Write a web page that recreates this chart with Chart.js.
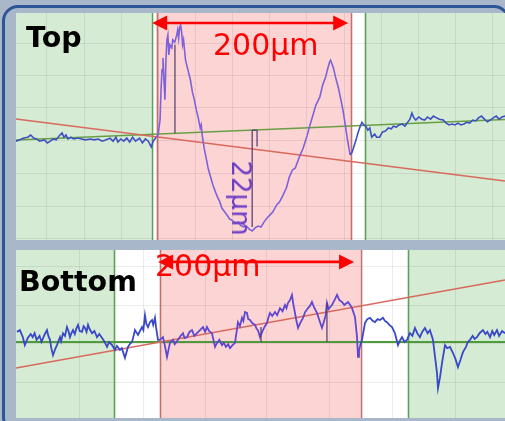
<!DOCTYPE html>
<html>
<head>
<meta charset="utf-8">
<script src="https://cdn.jsdelivr.net/npm/chart.js@4.4.1/dist/chart.umd.min.js"></script>
<style>
  html, body { margin: 0; padding: 0; }
  body {
    width: 505px; height: 421px; overflow: hidden; position: relative;
    background: #a9b7ca; font-family: "DejaVu Sans", Verdana, sans-serif;
  }
  #frame {
    position: absolute; left: 2px; top: 5px; width: 508px; height: 428px;
    box-sizing: border-box; border: 3px solid #2f5597; border-radius: 16px;
  }
  .panel { position: absolute; left: 16px; background: #fff; }
  #topPanel { top: 13px; width: 489px; height: 227px; }
  #botPanel { top: 250px; width: 489px; height: 168px; }
  .lbl { position: absolute; white-space: nowrap; line-height: 1; }
  .name { font-weight: bold; font-size: 28.5px; color: #000; }
  .span { font-size: 30px; color: #ff0000; }
  #depthLbl {
    left: 241px; top: 198px; font-size: 26px; color: #6b3cc6;
    transform: translate(-50%, -50%) rotate(90deg);
  }
</style>
</head>
<body>
<div id="frame"></div>
<div class="panel" id="topPanel"><canvas id="topChart" width="489" height="227"></canvas></div>
<div class="panel" id="botPanel"><canvas id="botChart" width="489" height="168"></canvas></div>
<div class="lbl name" style="left:26px;top:24px;">Top</div>
<div class="lbl name" style="left:19px;top:268px;">Bottom</div>
<div class="lbl span" style="left:213px;top:30px;">200μm</div>
<div class="lbl span" style="left:155px;top:251px;">200μm</div>
<div class="lbl" id="depthLbl">22μm</div>

<script>
// ---- Top surface profile (x in μm, height in μm) ----
const topX = [0,4,8,12,15,18,21,24,29,32,35,38,41,44,47,49,51,53,56,59,63,67,71,76,80,84,88,92,96,99,102,104,107,110,113,116,119,122,126,129,132,135,138,140,143,145,147,148,149,150,151,152,153,154,155,156,157,159,160,162,164,165,166,167,168,169,170,171,173,175,178,180,182,184,186,188,189,190,192,194,196,198,201,204,206,208,210,213,216,218,220,224,227,229,232,235,238,241,244,247,250,253,256,259,262,266,269,272,276,279,282,285,288,290,293,295,297,300,303,306,310,313,316,318,320,321,324,326,329,332,334,336,338,340,341,343,345,347,349,351,353,355,357,359,361,363,366,368,371,374,377,380,383,385,388,391,394,397,399,402,404,406,408,411,414,417,420,423,426,429,432,436,439,442,445,448,451,454,457,460,463,466,469,472,475,478,481,484,487,490,493,496,499];
const topY = [-1.4,-1.1,-0.7,-0.5,0,-0.7,-0.9,-1.4,-1.1,-1.8,-1.4,-0.9,-1.1,-0.2,0.5,-0.5,0,-0.9,-0.5,-0.9,-0.7,-0.9,-1.1,-0.9,-1.1,-0.9,-1.4,-1.1,-0.7,-1.4,-0.5,-1.6,-0.9,-1.4,-0.7,-1.6,-0.5,-1.4,-0.7,-1.8,-0.9,-1.4,-2.7,-1.4,-0.5,0,3.4,10.2,14.8,17.5,12.5,8,17,21.6,22.7,18.2,20.5,19.8,21.6,21.1,22.7,23.9,22,24.5,25,23.4,20.5,21.6,17,15.2,12.5,9.8,8,5.7,3.9,1.6,2.3,0,-3,-5.2,-7.5,-9.1,-11.4,-13.2,-14.3,-15.2,-16.6,-17.5,-18.4,-19.1,-19.3,-20,-19.8,-20.5,-20.9,-20.7,-21.4,-21.8,-21.1,-20.7,-20.9,-19.8,-18.9,-18.2,-17.5,-15.9,-15.2,-13.9,-12,-9.5,-8,-7.5,-5.7,-4.5,-3,-1.6,-0.2,2.3,4.5,6.8,8.6,11.4,13.2,15,16.6,17,15.2,13.2,10.7,7.5,5.2,2.3,-0.7,-3.4,-4.5,-3.9,-2.5,-1.1,0.5,1.8,2.9,2.3,2,1.1,1.6,-0.5,0.2,-0.5,-0.5,0.7,0.9,1.6,1.4,2,1.8,2.3,2.5,2,2.7,3.6,5,3.9,3.4,4.1,3.6,3.4,4.1,3.6,4.3,3.9,3.6,3.4,2.7,2.3,2.5,2.3,2.7,2.3,2.5,2.9,2.7,3.4,3.2,3.9,4.3,3.6,3,3.4,3.9,4.3,3.6,4.1,4.3];

// reference lines of the top scan: [x0, y0, x1, y1]
const topLevelLine = [0, -1.14, 499, 3.52];
const topTiltLine  = [0, 3.64, 499, -10.45];
// measurement ticks: peak marker and 22 μm depth marker
const topPeakMark  = [162.2, 0.4, 20.5];
const topDepthMark = [241, 1.1, -20.9];
const topDepthCap  = [246, 1.1, -2.6];

// ---- Bottom surface profile ----
const botX = [1,4,7,9,12,15,17,19,21,24,26,29,31.6,33,34.7,36,37.8,40,41.8,44.9,46,48,50,52,53.5,55.1,56.5,58.2,60,61.5,63.3,65,67.3,69,70.4,72,73.5,75,77.6,80,82.7,85,87.8,90,92.9,95,98,101,103,106.1,108,111.2,114.3,116,118.4,120,121.4,124.5,126.5,128.6,130,131.6,133,134.7,136.7,138.8,140,141.8,143,144.9,146.9,150,152,154.1,157.1,160.2,162,165.3,168,170.4,172,174.5,177,179.6,182,184.7,187.8,190.8,193,194.9,197,200,203.1,205.1,207.5,210.2,212,214.3,216.5,218.4,221,223.5,226.5,228.5,230.6,232,233.7,235.7,237,238.8,241,243.9,245.5,246.9,249,252,254,256.1,257.5,259.2,261.5,264.3,266.5,269.4,272,274.5,276,277.6,279.5,281.6,283,284.7,286,287.8,290,292.9,295,298,300,302,304,307.1,309.5,312.2,314,316,317.3,319,322.4,325,327.6,330,332.7,335,338.8,341,342.9,345.9,348,349,350,351,353.1,356.1,358.5,361.2,364,366.3,369,371.4,374.5,376.5,378.6,381,383.7,386.7,389.8,391.5,393.9,396.5,399,402,404.5,407.1,409.5,412.2,414.5,417.3,420,422.4,425.5,427.6,429.6,430.6,432.7,434.7,437.8,440,442.9,445.9,448.5,451,453.5,456.1,459.2,461,463.3,466,468,470.4,473,476.5,479,481,483.7,486,488,490.8,493,496,499];
const botY = [2.3,2.7,1.1,-0.7,0.9,1.8,1.1,2,0.5,1.4,0,1.6,2.7,1.4,0.5,-1.4,-3,-1.6,-0.7,1.1,0.2,2,1.4,3.4,2.5,1.1,2,2.7,1.8,3,3.9,2.5,2.3,3.6,3.2,2.3,3.9,3,2,2.5,1.1,1.8,0.9,0.2,-1.1,0,-0.7,-1.8,-0.9,-1.8,-1.4,-3.6,-1.1,-0.5,0,1.4,2.7,1.6,2.5,3.4,2.7,6.1,4.1,3.4,4.5,5,3.9,5.5,3.2,0.5,0.5,1.1,-0.9,-3.4,-0.2,0.5,-0.5,0.5,1.4,2,0.9,1.1,2.3,2.7,1.4,2,2.7,3.4,2.3,3.4,2.5,2,-1.1,-0.2,0.5,-0.7,-0.2,-1.1,-0.5,-1.4,-0.7,-0.2,4.5,3.6,5.5,4.8,6.8,6.6,5.2,5,4.3,3.9,3,2.7,1.1,2.7,3.6,4.3,5.5,6.6,5.9,6.8,6.1,7.7,7,8.4,7.7,8.9,9.5,10.7,8.6,6.6,5,3.2,4.3,5.5,6.8,7.7,8.2,9.1,8,6.6,5,3.2,4.5,6.1,8.9,7.5,8.4,9.5,10.7,9.5,9.1,8.4,9.1,8.4,7.7,5.7,1.1,-3.4,-2,-1,0.5,4.3,5.2,5.5,4.8,4.5,5.2,5,5.5,4.8,4.5,3.9,3.4,2,-0.7,0.2,1.1,0,0.5,2,1.4,3.2,2,1.1,2.3,3.2,2,2.7,0.5,-3.4,-7,-10.5,-8,-4.8,-0.7,-1.4,-1.1,-2.5,-3.9,-5.7,-4.1,-2.3,-1.1,0,0.5,1.4,0.7,1.1,2,2.7,1.8,2.3,1.1,2.5,1.6,2.7,1.4,2.5,2];

const botLevelLine = [0, 0, 499, 0];
const botTiltLine  = [0, -5.91, 499, 14.09];
const botMarkA = [250, 0, 3.4];
const botMarkB = [317.3, 0, 8.9];

// ---- zones along the scan (μm) ----
const topZoneEdges = [0, 138.5, 143.6, 341.8, 356.1, 499];
const botZoneEdges = [0, 100, 147.4, 351.7, 400, 499];
const zoneKinds = ['green', 'white', 'pink', 'white', 'green'];

// ---- 200 μm span arrows: [start x, length, height] ----
const topSpan = [139, 200, 25.45];
const botSpan = [145, 200, 18.2];

// ---- grid positions ----
const topGridX = [31.6, 69.5, 107.4, 145.3, 183.2, 221.1, 259, 296.9, 334.8, 372.7, 410.6, 448.5, 486.4];
const topGridY = [20.91, 13.52, 6.14, -1.25, -8.64, -16.14, -23.5];
const botGridX = [65.3, 129.6, 192.9, 256.1, 320.4, 383.7, 448];
const botGridY = [17.16, 8.41, -0.34, -9.09];

const zoneFill = { green: '#d6ebd3', pink: '#fdd4d4', white: '#ffffff' };
const edgeColor = { green: '#5e9f5c', pink: '#c2706e' };

const zonePlugin = {
  id: 'zones',
  beforeDraw(chart, args, o) {
    const { ctx, chartArea: a, scales: { x } } = chart;
    ctx.save();
    for (let i = 0; i < o.kinds.length; i++) {
      const x0 = x.getPixelForValue(o.edges[i]);
      const x1 = x.getPixelForValue(o.edges[i + 1]);
      ctx.fillStyle = zoneFill[o.kinds[i]];
      ctx.fillRect(x0, a.top, x1 - x0, a.bottom - a.top);
    }
    ctx.restore();
  },
  beforeDatasetsDraw(chart, args, o) {
    const { ctx, chartArea: a, scales: { x } } = chart;
    ctx.save();
    ctx.lineWidth = 1.6;
    for (let i = 1; i < o.kinds.length; i++) {
      const left = o.kinds[i - 1], right = o.kinds[i];
      const kind = left === 'white' ? right : left;
      const px = Math.round(x.getPixelForValue(o.edges[i])) + 0.5;
      ctx.strokeStyle = edgeColor[kind];
      ctx.beginPath();
      ctx.moveTo(px, a.top);
      ctx.lineTo(px, a.bottom);
      ctx.stroke();
    }
    ctx.restore();
  },
  afterDatasetsDraw(chart, args, o) {
    const { ctx, scales: { x, y } } = chart;
    const [sx, len, sy] = o.span;
    const x0 = x.getPixelForValue(sx), x1 = x.getPixelForValue(sx + len);
    const py = y.getPixelForValue(sy);
    const hl = 15, hw = 7.5;
    ctx.save();
    ctx.strokeStyle = '#ff0000';
    ctx.fillStyle = '#ff0000';
    ctx.lineWidth = 2.6;
    ctx.beginPath();
    ctx.moveTo(x0 + hl - 2, py);
    ctx.lineTo(x1 - hl + 2, py);
    ctx.stroke();
    ctx.beginPath();
    ctx.moveTo(x1, py); ctx.lineTo(x1 - hl, py - hw); ctx.lineTo(x1 - hl, py + hw); ctx.closePath();
    ctx.fill();
    ctx.beginPath();
    ctx.moveTo(x0, py); ctx.lineTo(x0 + hl, py - hw); ctx.lineTo(x0 + hl, py + hw); ctx.closePath();
    ctx.fill();
    ctx.restore();
  }
};

function pts(xs, ys) { return xs.map((v, i) => ({ x: v, y: ys[i] })); }
function seg(l) { return [{ x: l[0], y: l[1] }, { x: l[2], y: l[3] }]; }
function vmark(m) { return [{ x: m[0], y: m[1] }, { x: m[0], y: m[2] }]; }

function buildChart(id, o) {
  const inPink = v => v > o.edges[2] && v < o.edges[3];
  const datasets = [
    { data: pts(o.xs, o.ys), borderColor: o.blue, borderWidth: o.width, order: 1,
      segment: { borderColor: c => inPink((c.p0.parsed.x + c.p1.parsed.x) / 2) ? o.purple : o.blue } },
    { data: seg(o.level), borderColor: o.levelColor, borderWidth: o.levelWidth, order: 3 },
    { data: seg(o.tilt), borderColor: '#d8695d', borderWidth: 1.5, order: 2 }
  ];
  o.marks.forEach(m => datasets.push({ data: m, borderColor: '#4b3b6b', borderWidth: 1.2, order: 0 }));
  return new Chart(document.getElementById(id), {
    type: 'line',
    data: { datasets },
    options: {
      responsive: false, animation: false, devicePixelRatio: 1,
      layout: { padding: 0 },
      elements: { point: { radius: 0 }, line: { tension: 0, fill: false } },
      plugins: { legend: { display: false }, tooltip: { enabled: false },
                 zones: { edges: o.edges, kinds: zoneKinds, span: o.span } },
      scales: {
        x: { type: 'linear', min: 0, max: 499,
             ticks: { display: false }, border: { display: false },
             grid: { color: 'rgba(0,0,0,0.075)', drawTicks: false },
             afterBuildTicks: s => { s.ticks = o.gridX.map(v => ({ value: v })); } },
        y: { type: 'linear', min: o.yMin, max: o.yMax,
             ticks: { display: false }, border: { display: false },
             grid: { color: 'rgba(0,0,0,0.075)', drawTicks: false },
             afterBuildTicks: s => { s.ticks = o.gridY.map(v => ({ value: v })); } }
      }
    },
    plugins: [zonePlugin]
  });
}

buildChart('topChart', {
  xs: topX, ys: topY, edges: topZoneEdges, span: topSpan,
  gridX: topGridX, gridY: topGridY, yMin: -23.86, yMax: 27.73,
  level: topLevelLine, tilt: topTiltLine, levelColor: '#6a9e44', levelWidth: 1.5,
  blue: '#3d50c2', purple: '#7d62da', width: 1.6,
  marks: [vmark(topPeakMark), vmark(topDepthMark), vmark(topDepthCap),
          [{ x: topDepthMark[0], y: topDepthMark[1] }, { x: topDepthCap[0], y: topDepthCap[1] }]]
});

buildChart('botChart', {
  xs: botX, ys: botY, edges: botZoneEdges, span: botSpan,
  gridX: botGridX, gridY: botGridY, yMin: -17.27, yMax: 20.91,
  level: botLevelLine, tilt: botTiltLine, levelColor: '#4f9a3a', levelWidth: 2,
  blue: '#3848c8', purple: '#5e48d2', width: 1.8,
  marks: [vmark(botMarkA), vmark(botMarkB)]
});
</script>
</body>
</html>
